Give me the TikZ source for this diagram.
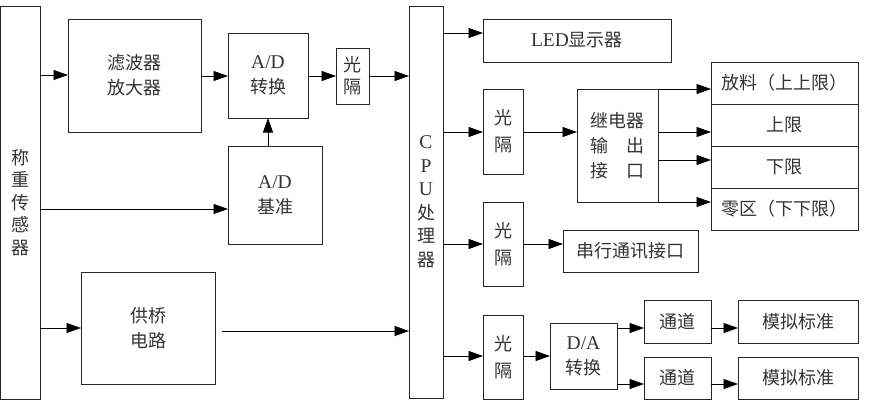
\documentclass[tikz,border=0pt]{standalone}
\usepackage{fontspec}
\setmainfont{Noto Sans CJK SC}
\newfontfamily\latfont{Liberation Serif}
\usetikzlibrary{arrows.meta}
\newcommand\lt[1]{{\latfont\fontsize{19.5}{25}\selectfont #1}}
\newcommand\mybox[7][]{%
  \pgfmathsetmacro\bw{#5-#3}\pgfmathsetmacro\bh{#6-#4}%
  \pgfmathsetmacro\bcx{(#3+#5)/2}\pgfmathsetmacro\bcy{(#4+#6)/2}%
  \node[box,minimum width=\bw pt,minimum height=\bh pt,#1] (#2) at (\bcx,\bcy) {#7};}
\tikzset{
  box/.style={draw=black!85, line width=0.9pt, inner sep=0pt, outer sep=0pt,
    align=center, text=black!80, font=\fontsize{18}{25}\selectfont},
  arr/.style={draw=black, line width=0.9pt, -{Triangle[length=14.5pt,width=10pt]}},
}
\begin{document}
\begin{tikzpicture}[x=1pt,y=-1pt]
\useasboundingbox (0,0) rectangle (871,412);
\mybox[font=\fontsize{18}{22.5}\selectfont]{sensor}{0.8}{6}{40}{399}{称\\重\\传\\感\\器}
\mybox{filter}{68}{19}{201}{132}{滤波器\\放大器}
\mybox{adc}{228}{33}{308}{118}{\lt{A/D}\\转换}
\mybox[font=\fontsize{18}{22}\selectfont]{opto1}{336}{48}{369}{104}{光\\隔}
\mybox{adref}{228}{146}{322}{244}{\lt{A/D}\\基准}
\mybox{bridge}{81}{272}{215}{384}{供桥\\电路}
\mybox[font=\fontsize{18}{23.5}\selectfont]{cpu}{409}{6}{443}{398}{\lt{C}\\\lt{P}\\\lt{U}\\处\\理\\器}
\mybox{led}{483}{19}{671}{62}{\lt{LED}显示器}
\mybox[font=\fontsize{18}{27}\selectfont]{opto2}{483}{89}{523}{174}{光\\隔}
\mybox{relay}{577}{89}{658}{202}{继电器\\输　出\\接　口}
\mybox{r1}{711}{62}{858}{104}{放料（上上限）}
\mybox{r2}{711}{104}{858}{146}{上限}
\mybox{r3}{711}{146}{858}{188}{下限}
\mybox{r4}{711}{188}{858}{230}{零区（下下限）}
\mybox[font=\fontsize{18}{27}\selectfont]{opto3}{483}{202}{523}{286}{光\\隔}
\mybox{serial}{563}{230}{698}{272}{串行通讯接口}
\mybox[font=\fontsize{18}{27}\selectfont]{opto4}{483}{315}{523}{399}{光\\隔}
\mybox{dac}{550}{323}{617}{389}{\lt{D/A}\\转换}
\mybox{ch1}{644}{300}{711}{343}{通道}
\mybox{ch2}{644}{357}{711}{399}{通道}
\mybox{an1}{738}{300}{858}{343}{模拟标准}
\mybox{an2}{738}{357}{858}{399}{模拟标准}
\coordinate (bo) at (222,331);
% connectors
\draw[arr] (sensor.east |- 0,75) -- (filter.west |- 0,75);
\draw[arr] (filter.east |- 0,76) -- (adc.west |- 0,76);
\draw[arr] (adc.east |- 0,76) -- (opto1.west |- 0,76);
\draw[arr] (opto1.east |- 0,76) -- (cpu.west |- 0,76);
\draw[arr] (adref.north -| 268,0) -- (adc.south -| 268,0);
\draw[arr] (sensor.east |- 0,209) -- (adref.west |- 0,209);
\draw[arr] (sensor.east |- 0,328) -- (bridge.west |- 0,328);
\draw[arr] (bo) -- (cpu.west |- bo);
\draw[arr] (cpu.east |- 0,33) -- (led.west |- 0,33);
\draw[arr] (cpu.east |- 0,132) -- (opto2.west |- 0,132);
\draw[arr] (opto2.east |- 0,132) -- (relay.west |- 0,132);
\draw[arr] (relay.north east) -- (r1.west |- relay.north east);
\draw[arr] (relay.east |- 0,132) -- (r2.west |- 0,132);
\draw[arr] (relay.east |- 0,160) -- (r3.west |- 0,160);
\draw[arr] (relay.south east) -- (r4.west |- relay.south east);
\draw[arr] (cpu.east |- 0,244) -- (opto3.west |- 0,244);
\draw[arr] (opto3.east |- 0,244) -- (serial.west |- 0,244);
\draw[arr] (cpu.east |- 0,356) -- (opto4.west |- 0,356);
\draw[arr] (opto4.east |- 0,356) -- (dac.west |- 0,356);
\draw[arr] (dac.east |- 0,328) -- (ch1.west |- 0,328);
\draw[arr] (dac.east |- 0,384) -- (ch2.west |- 0,384);
\draw[arr] (ch1.east |- 0,328) -- (an1.west |- 0,328);
\draw[arr] (ch2.east |- 0,384) -- (an2.west |- 0,384);
\end{tikzpicture}
\end{document}
